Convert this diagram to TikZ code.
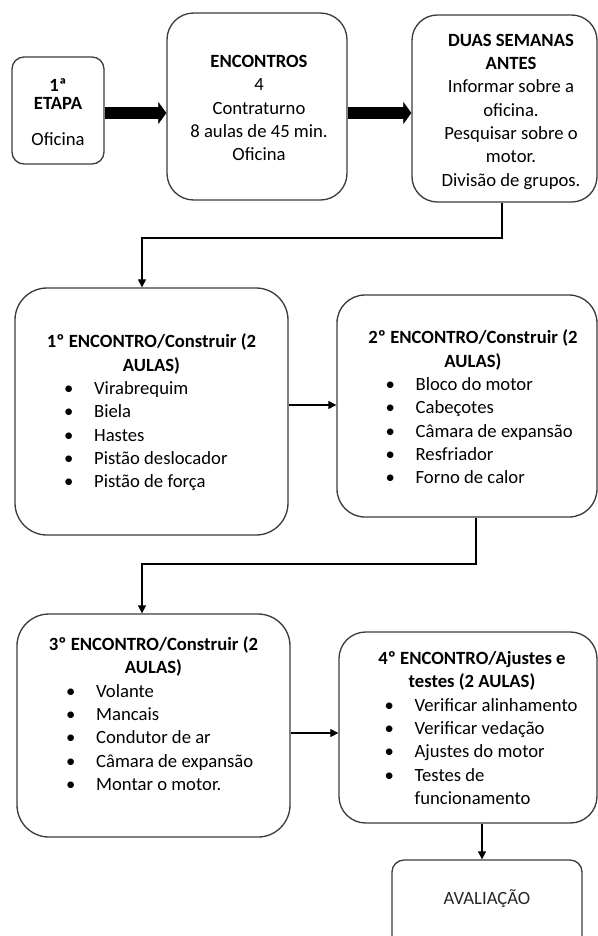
\documentclass[tikz,border=0pt]{standalone}
\usepackage{fontspec}
\setmainfont{Carlito}
\usetikzlibrary{arrows.meta}
\definecolor{edge}{RGB}{60,60,60}
\tikzset{
  box/.style={draw=edge, line width=1pt, rounded corners=#1, inner sep=0pt},
  box/.default=20pt,
  txt/.style={align=center, inner sep=0pt, font=\fontsize{14}{17.5}\selectfont},
  conn/.style={draw=black, line width=0.9pt, -{Triangle[length=6pt,width=6pt]}},
  bigarrow/.style={draw=black, line width=9pt, -{Triangle[length=6pt,width=16.5pt,line width=0.5pt]}},
}
\newcommand{\bitem}[1]{\makebox[131pt][l]{\makebox[22.5pt][l]{\textbullet}#1}}
\newcommand{\bcont}[1]{\makebox[131pt][l]{\hspace{22.5pt}#1}}

\begin{document}
\begin{tikzpicture}[x=0.75pt,y=-0.75pt]
  \useasboundingbox (0,0) rectangle (598,936);

  % Top row
  \node[box=9pt, minimum width=69pt, minimum height=80.25pt] (a) at (58,110.5) {};
  \node[box=20pt, minimum width=135pt, minimum height=140.25pt] (b) at (257,106.5) {};
  \node[box=19pt, minimum width=138.75pt, minimum height=140.25pt] (c) at (504.5,108.5) {};

  \node[txt] (atext) at (58,112) {\textbf{1ª}\\[-4pt]\textbf{ETAPA}\\[10pt]Oficina};
  \node[txt] (btext) at (259,108) {\textbf{ENCONTROS}\\4\\Contraturno\\8 aulas de 45 min.\\Oficina};
  \node[txt] (ctext) at (511,111.5) {\textbf{DUAS SEMANAS}\\\textbf{ANTES}\\Informar sobre a\\oficina.\\Pesquisar sobre o\\motor.\\Divisão de grupos.};

  \draw[bigarrow] (a.east |- 0,113) -- (b.west |- 0,113);
  \draw[bigarrow] (b.east |- 0,113) -- (c.west |- 0,113);

  % Encontros 1 and 2
  \node[box=24pt, minimum width=204.75pt, minimum height=185.25pt] (d) at (151.5,411.5) {};
  \node[box=21pt, minimum width=195pt, minimum height=166.5pt] (e) at (467,406) {};

  \node[txt] (dtext) at (151.5,412.5) {\textbf{1º ENCONTRO/Construir (2}\\\textbf{AULAS)}\\\bitem{Virabrequim}\\\bitem{Biela}\\\bitem{Hastes}\\\bitem{Pistão deslocador}\\\bitem{Pistão de força}};
  \node[txt] (etext) at (473,407) {\textbf{2º ENCONTRO/Construir (2}\\\textbf{AULAS)}\\\bitem{Bloco do motor}\\\bitem{Cabeçotes}\\\bitem{Câmara de expansão}\\\bitem{Resfriador}\\\bitem{Forno de calor}};

  \coordinate (cd) at (142,238);
  \draw[conn] (c.south -| 502,0) |- (cd) -- (cd |- d.north);
  \draw[conn] (d.east |- 0,405) -- (e.west |- 0,405);

  % Encontros 3 and 4
  \node[box=24pt, minimum width=204.75pt, minimum height=167.25pt] (f) at (153.5,725.5) {};
  \node[box=20pt, minimum width=193.5pt, minimum height=143.25pt] (g) at (468,727.5) {};

  \node[txt] (ftext) at (153.5,713.5) {\textbf{3º ENCONTRO/Construir (2}\\\textbf{AULAS)}\\\bitem{Volante}\\\bitem{Mancais}\\\bitem{Condutor de ar}\\\bitem{Câmara de expansão}\\\bitem{Montar o motor.}};
  \node[txt] (gtext) at (472,728) {\textbf{4º ENCONTRO/Ajustes e}\\\textbf{testes (2 AULAS)}\\\bitem{Verificar alinhamento}\\\bitem{Verificar vedação}\\\bitem{Ajustes do motor}\\\bitem{Testes de}\\\bcont{funcionamento}};

  \coordinate (ef) at (142,564);
  \draw[conn] (e.south -| 476,0) |- (ef) -- (ef |- f.north);
  \draw[conn] (f.east |- 0,733) -- (g.west |- 0,733);

  % Avaliacao
  \node[box=9pt, minimum width=142.5pt, minimum height=75pt] (h) at (487,910) {};
  \node[txt, text=black!85] (htext) at (487,899) {AVALIAÇÃO};
  \draw[conn] (g.south -| 482,0) -- (h.north -| 482,0);
\end{tikzpicture}
\end{document}
